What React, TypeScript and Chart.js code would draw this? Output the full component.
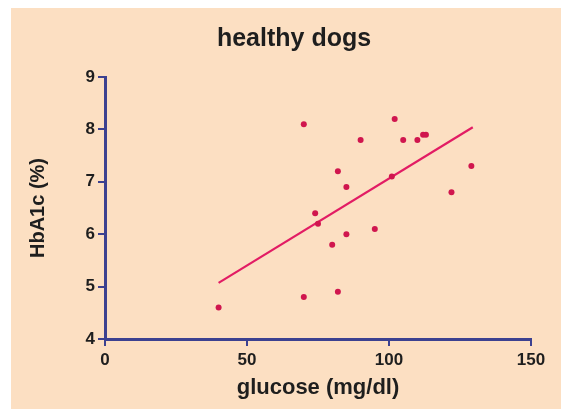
import React, { useEffect, useRef } from "react";
import { Chart, registerables } from "chart.js";

Chart.register(...registerables);

const chartTitle = "healthy dogs";
const xAxisTitle = "glucose (mg/dl)";
const yAxisTitle = "HbA1c (%)";

const xTicks = [0, 50, 100, 150];
const yTicks = [4, 5, 6, 7, 8, 9];

const glucose = [40, 70, 70, 74, 75, 80, 82, 82, 85, 85, 90, 95, 101, 102, 105, 110, 112, 113, 122, 129];
const hba1c = [4.6, 8.1, 4.8, 6.4, 6.2, 5.8, 7.2, 4.9, 6.9, 6.0, 7.8, 6.1, 7.1, 8.2, 7.8, 7.8, 7.9, 7.9, 6.8, 7.3];

const fitX = [40, 129.5];
const fitY = [5.07, 8.04];

const BG = "#FCDFC2";
const AXIS = "#3C4190";
const DOT = "#D0164E";
const LINE = "#E21C64";
const TEXT = "#1E1E1E";
const FONT = "'Liberation Sans', Arial, Helvetica, sans-serif";

export default function App() {
  const ref = useRef<HTMLCanvasElement | null>(null);

  useEffect(() => {
    if (!ref.current) return;
    const titlePlugin = {
      id: "customTitle",
      afterDraw(chart: any) {
        const ctx = chart.ctx;
        ctx.save();
        ctx.font = `bold 25px ${FONT}`;
        ctx.fillStyle = TEXT;
        ctx.textAlign = "center";
        ctx.textBaseline = "alphabetic";
        ctx.fillText(chartTitle, 283, 38);
        ctx.restore();
      },
    };
    const chart = new Chart(ref.current, {
      type: "scatter",
      data: {
        datasets: [
          {
            label: "fit",
            data: fitX.map((x, i) => ({ x, y: fitY[i] })),
            showLine: true,
            borderColor: LINE,
            borderWidth: 2.2,
            pointRadius: 0,
            order: 2,
          },
          {
            label: "dogs",
            data: glucose.map((x, i) => ({ x, y: hba1c[i] })),
            showLine: false,
            backgroundColor: DOT,
            borderColor: DOT,
            borderWidth: 0,
            pointRadius: 3,
            order: 1,
          },
        ],
      },
      options: {
        animation: false,
        responsive: false,
        layout: { padding: { left: 0, right: 30, top: 69, bottom: 0 } },
        plugins: {
          legend: { display: false },
          tooltip: { enabled: false },
          title: { display: false },
        },
        scales: {
          x: {
            type: "linear",
            min: 0,
            max: 150,
            afterFit: (s: any) => {
              s.height = 70;
            },
            afterBuildTicks: (s: any) => {
              s.ticks = xTicks.map((v) => ({ value: v }));
            },
            border: { display: true, color: AXIS, width: 3 },
            grid: { drawOnChartArea: false, drawTicks: true, tickLength: 7, color: AXIS, lineWidth: 2 },
            ticks: {
              color: TEXT,
              padding: 4,
              maxRotation: 0,
              font: { family: FONT, size: 17, weight: "bold" },
            },
            title: {
              display: true,
              text: xAxisTitle,
              color: TEXT,
              font: { family: FONT, size: 22, weight: "bold" },
              padding: { top: 0, bottom: 8 },
            },
          },
          y: {
            type: "linear",
            min: 4,
            max: 9,
            afterFit: (s: any) => {
              s.width = 94;
            },
            afterBuildTicks: (s: any) => {
              s.ticks = yTicks.map((v) => ({ value: v }));
            },
            border: { display: true, color: AXIS, width: 3 },
            grid: { drawOnChartArea: false, drawTicks: true, tickLength: 7, color: AXIS, lineWidth: 2 },
            ticks: {
              color: TEXT,
              padding: 3,
              font: { family: FONT, size: 17, weight: "bold" },
            },
            title: {
              display: true,
              text: yAxisTitle,
              color: TEXT,
              font: { family: FONT, size: 20, weight: "bold" },
              padding: { top: 15, bottom: 0 },
            },
          },
        },
      },
      plugins: [titlePlugin],
    } as any);
    return () => chart.destroy();
  }, []);

  return (
    <div
      style={{
        position: "fixed",
        left: 11,
        top: 8,
        width: 550,
        height: 401,
        background: BG,
      }}
    >
      <canvas ref={ref} width={550} height={401} style={{ display: "block" }} />
    </div>
  );
}
